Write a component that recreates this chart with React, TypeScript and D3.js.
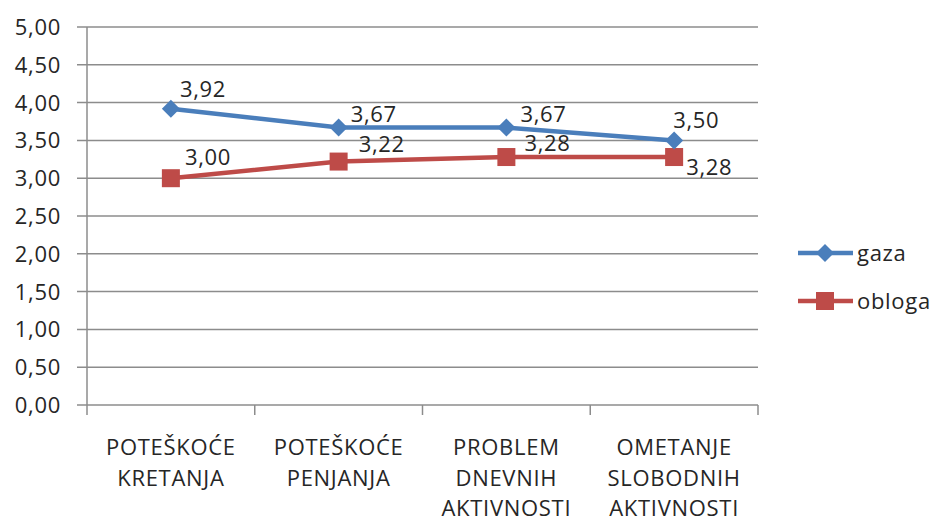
import React from 'react';
import * as d3 from 'd3';

const categories = [
  ['POTEŠKOĆE', 'KRETANJA'],
  ['POTEŠKOĆE', 'PENJANJA'],
  ['PROBLEM', 'DNEVNIH', 'AKTIVNOSTI'],
  ['OMETANJE', 'SLOBODNIH', 'AKTIVNOSTI'],
];
const gaza = [3.92, 3.67, 3.67, 3.5];
const obloga = [3.0, 3.22, 3.28, 3.28];
const yTicks = [0, 0.5, 1, 1.5, 2, 2.5, 3, 3.5, 4, 4.5, 5];

// manual label offsets (dx, dy baseline) per point, as placed in the original
const gazaLabelOffset = [[9, -12], [12, -6], [14, -6], [-1, -12]];
const oblogaLabelOffset = [[14, -13], [20, -10], [18, -6], [12, 18]];

const W = 931;
const H = 522;
const left = 87;
const right = 758;
const top = 27;
const bottom = 405;
const font = '"Open Sans", sans-serif';
const fs = 22;
const ls = 0.7;
const blue = '#4A7EBB';
const red = '#BE4B48';
const grid = '#8C8C8C';
const ink = '#262626';

const fmt = (v: number) => v.toFixed(2).replace('.', ',');

export default function App() {
  const x = d3.scaleBand<number>().domain(d3.range(categories.length)).range([left, right]).paddingInner(0).paddingOuter(0);
  const cx = (i: number) => (x(i) as number) + x.bandwidth() / 2;
  const y = d3.scaleLinear().domain([0, 5]).range([bottom, top]);
  const line = d3.line<number>().x((_, i) => cx(i)).y(d => y(d));
  const bounds = d3.range(categories.length + 1).map(i => left + i * x.bandwidth());

  const diamond = (px: number, py: number, r: number) =>
    `M${px},${py - r}L${px + r},${py}L${px},${py + r}L${px - r},${py}Z`;

  return (
    <svg width={W} height={H} style={{ position: 'absolute', left: 0, top: 0 }} fontFamily={font} fontSize={fs} letterSpacing={ls}>
      <rect width={W} height={H} fill="#fff" />
      {yTicks.map(t => (
        <g key={t}>
          <line x1={77} x2={right} y1={y(t)} y2={y(t)} stroke={grid} strokeWidth={1.5} />
          <text x={61} y={y(t)} dy="0.36em" textAnchor="end" fill={ink}>{fmt(t)}</text>
        </g>
      ))}
      <line x1={left} x2={left} y1={top} y2={bottom} stroke={grid} strokeWidth={1.5} />
      {bounds.map(b => (
        <line key={b} x1={b} x2={b} y1={bottom} y2={bottom + 10} stroke={grid} strokeWidth={1.5} />
      ))}
      {categories.map((lines, i) => (
        <text key={i} textAnchor="middle" fill={ink}>
          {lines.map((l, j) => (
            <tspan key={j} x={cx(i)} y={455 + j * 30.5}>{l}</tspan>
          ))}
        </text>
      ))}
      <path d={line(obloga) as string} fill="none" stroke={red} strokeWidth={4.5} />
      <path d={line(gaza) as string} fill="none" stroke={blue} strokeWidth={4.5} />
      {obloga.map((v, i) => (
        <rect key={i} x={cx(i) - 9} y={y(v) - 9} width={18} height={18} fill={red} />
      ))}
      {gaza.map((v, i) => (
        <path key={i} d={diamond(cx(i), y(v), 9)} fill={blue} />
      ))}
      {gaza.map((v, i) => (
        <text key={i} x={cx(i) + gazaLabelOffset[i][0]} y={y(v) + gazaLabelOffset[i][1]} fill={ink}>{fmt(v)}</text>
      ))}
      {obloga.map((v, i) => (
        <text key={i} x={cx(i) + oblogaLabelOffset[i][0]} y={y(v) + oblogaLabelOffset[i][1]} fill={ink}>{fmt(v)}</text>
      ))}
      <g>
        <line x1={798} x2={853} y1={253} y2={253} stroke={blue} strokeWidth={4.5} />
        <path d={diamond(825, 253, 9)} fill={blue} />
        <text x={857} y={253} dy="0.36em" fill={ink}>gaza</text>
        <line x1={798} x2={853} y1={301} y2={301} stroke={red} strokeWidth={4.5} />
        <rect x={816} y={292} width={18} height={18} fill={red} />
        <text x={857} y={301} dy="0.36em" fill={ink}>obloga</text>
      </g>
    </svg>
  );
}
